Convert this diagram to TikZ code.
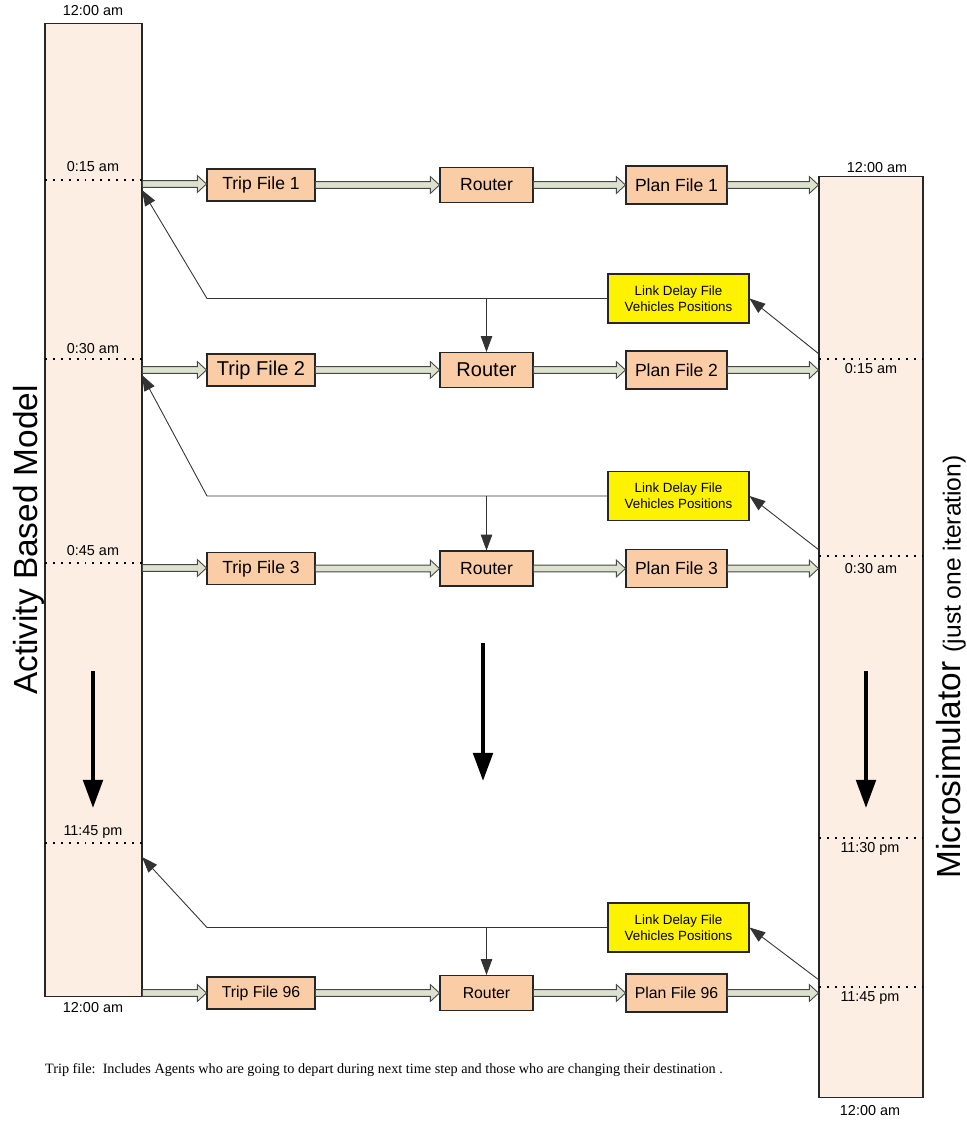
\documentclass[tikz,border=0pt]{standalone}
\usepackage{fontspec}
\setmainfont{Liberation Sans}
\newfontfamily\notefont{Liberation Serif}
\usetikzlibrary{arrows.meta,calc}

\definecolor{barfill}{RGB}{253,238,227}
\definecolor{filefill}{RGB}{250,205,167}
\definecolor{pipefill}{RGB}{221,226,206}
\definecolor{pipeline}{RGB}{70,70,70}

% hollow block arrow between two points
\newcommand{\flowarrow}[2]{%
  \filldraw[pipe] let \p1=(#1), \p2=(#2) in
    (\x1,\y1+1.9pt) -- (\x2-5.2pt,\y1+1.9pt) -- (\x2-5.2pt,\y1+4.8pt) -- (\x2,\y1)
    -- (\x2-5.2pt,\y1-4.8pt) -- (\x2-5.2pt,\y1-1.9pt) -- (\x1,\y1-1.9pt) -- cycle;}

\begin{document}
\begin{tikzpicture}
  [x=0.02cm,y=-0.02cm,
   bar/.style={rectangle,draw=black!85,fill=barfill,line width=0.6pt,inner sep=0pt},
   filebox/.style={rectangle,draw=black!85,fill=filefill,line width=0.6pt,
                   inner sep=0pt,font=\fontsize{10}{12}\selectfont},
   tripbox/.style={filebox,minimum width=2.16cm,minimum height=0.64cm},
   routerbox/.style={filebox,minimum width=1.86cm,minimum height=0.70cm},
   planbox/.style={filebox,minimum width=2.02cm,minimum height=0.76cm},
   delaybox/.style={rectangle,draw=black!85,fill=yellow,line width=0.6pt,inner sep=0pt,
                    minimum width=2.82cm,minimum height=0.98cm,align=center,
                    font=\fontsize{7.6}{9.2}\selectfont},
   pipe/.style={draw=pipeline,fill=pipefill,line width=0.5pt,line join=miter},
   feedback/.style={draw=black!80,line width=0.5pt,-{Triangle[length=9pt,width=6.5pt]}},
   timeflow/.style={line width=2.4pt,-{Triangle[length=16pt,width=11pt]}},
   timemark/.style={line width=1.1pt,dash pattern=on 1.1pt off 3.4pt},
   timelbl/.style={font=\fontsize{8.2}{10}\selectfont,inner sep=1pt},
   biglbl/.style={rotate=90,font=\fontsize{19}{22}\selectfont,inner sep=0pt}]
  \useasboundingbox (0,0) rectangle (966,1128);

  % the two time lines
  \node (abm) at (93.5,510) [bar,minimum width=1.94cm,minimum height=19.48cm] {};
  \node (micro) at (871,637) [bar,minimum width=2.08cm,minimum height=18.44cm] {};
  \node (abmname) at (29,540) [biglbl] {Activity Based Model};
  \node (microname) at (951,667) [biglbl]
    {Microsimulator {\fontsize{14}{16}\selectfont (just one iteration)}};

  % time marks
  \draw[timemark] (45,180) -- (142,180);
  \draw[timemark] (45,359) -- (142,359);
  \draw[timemark] (45,563) -- (142,563);
  \draw[timemark] (45,843) -- (142,843);
  \draw[timemark] (819,359) -- (923,359);
  \draw[timemark] (819,556) -- (923,556);
  \draw[timemark] (819,838) -- (923,838);
  \draw[timemark] (819,987) -- (923,987);
  \node (abmstart) at (93,11) [timelbl] {12:00 am};
  \node (abmend) at (93,1008) [timelbl] {12:00 am};
  \node (abmA) at (93,167) [timelbl] {0:15 am};
  \node (abmB) at (93,349) [timelbl] {0:30 am};
  \node (abmC) at (93,551) [timelbl] {0:45 am};
  \node (abmD) at (93,832) [timelbl] {11:45 pm};
  \node (microstart) at (877,168) [timelbl] {12:00 am};
  \node (microA) at (871,369) [timelbl] {0:15 am};
  \node (microB) at (871,569) [timelbl] {0:30 am};
  \node (microC) at (870,849) [timelbl] {11:30 pm};
  \node (microD) at (870,998) [timelbl] {11:45 pm};
  \node (microend) at (870,1111) [timelbl] {12:00 am};

  % files and routers
  \node (trip1) at (261,185) [tripbox] {Trip File 1};
  \node (router1) at (486.5,185) [routerbox] {Router};
  \node (plan1) at (676.5,185) [planbox] {Plan File 1};
  \node (trip2) at (261,370) [tripbox,font=\fontsize{11.4}{13}\selectfont] {Trip File 2};
  \node (router2) at (486.5,370) [routerbox,font=\fontsize{11.4}{13}\selectfont] {Router};
  \node (plan2) at (676.5,370) [planbox] {Plan File 2};
  \node (trip3) at (261,568.5) [tripbox] {Trip File 3};
  \node (router3) at (486.5,568.5) [routerbox] {Router};
  \node (plan3) at (676.5,568.5) [planbox] {Plan File 3};
  \node (trip96) at (261,993) [tripbox,font=\fontsize{9}{11}\selectfont] {Trip File 96};
  \node (router96) at (486.5,993) [routerbox,font=\fontsize{9}{11}\selectfont] {Router};
  \node (plan96) at (676.5,993) [planbox,font=\fontsize{9}{11}\selectfont] {Plan File 96};

  \node (delay1) at (678.5,298.5) [delaybox] {Link Delay File\\Vehicles Positions};
  \node (delay2) at (678.5,496) [delaybox] {Link Delay File\\Vehicles Positions};
  \node (delay3) at (678.5,927.5) [delaybox] {Link Delay File\\Vehicles Positions};

  % forward flow
  \flowarrow{abm.east |- 0,184}{trip1.west}
  \flowarrow{trip1.east}{router1.west}
  \flowarrow{router1.east}{plan1.west}
  \flowarrow{plan1.east}{micro.west |- 0,184}
  \flowarrow{abm.east |- 0,370}{trip2.west}
  \flowarrow{trip2.east}{router2.west}
  \flowarrow{router2.east}{plan2.west}
  \flowarrow{plan2.east}{micro.west |- 0,370}
  \flowarrow{abm.east |- 0,568}{trip3.west}
  \flowarrow{trip3.east}{router3.west}
  \flowarrow{router3.east}{plan3.west}
  \flowarrow{plan3.east}{micro.west |- 0,568}
  \flowarrow{abm.east |- 0,993}{trip96.west}
  \flowarrow{trip96.east}{router96.west}
  \flowarrow{router96.east}{plan96.west}
  \flowarrow{plan96.east}{micro.west |- 0,993}

  % feedback from the microsimulator
  \coordinate (out1) at (819,354);
  \coordinate (out2) at (819,550);
  \coordinate (out3) at (819,980);
  \coordinate (bend1) at (207,298.5);
  \coordinate (bend2) at (207,496);
  \coordinate (bend3) at (207,927.5);
  \coordinate (back1) at (142,190);
  \coordinate (back2) at (142,375);
  \coordinate (back3) at (142,857);
  \draw[feedback] (out1) -- (delay1.east);
  \draw[feedback] (out2) -- (delay2.east);
  \draw[feedback] (out3) -- (delay3.east);
  \draw[feedback] (delay1.west) -- (bend1) -- (back1);
  \draw[feedback] (delay2.west) -- (bend2) -- (back2);
  \draw[feedback] (delay3.west) -- (bend3) -- (back3);
  \draw[feedback] (delay1.west -| router2.north) -- (router2.north);
  \draw[feedback] (delay2.west -| router3.north) -- (router3.north);
  \draw[feedback] (delay3.west -| router96.north) -- (router96.north);

  % time goes on
  \draw[timeflow] (93,671) -- (93,808);
  \draw[timeflow] (483,643) -- (483,781);
  \draw[timeflow] (866,671) -- (866,808);

  \node (note) at (384,1070) [font=\notefont\fontsize{8.1}{9.5}\selectfont]
    {Trip file:\ \ Includes Agents who are going to depart during next time step and those who are changing their destination .};
\end{tikzpicture}
\end{document}
